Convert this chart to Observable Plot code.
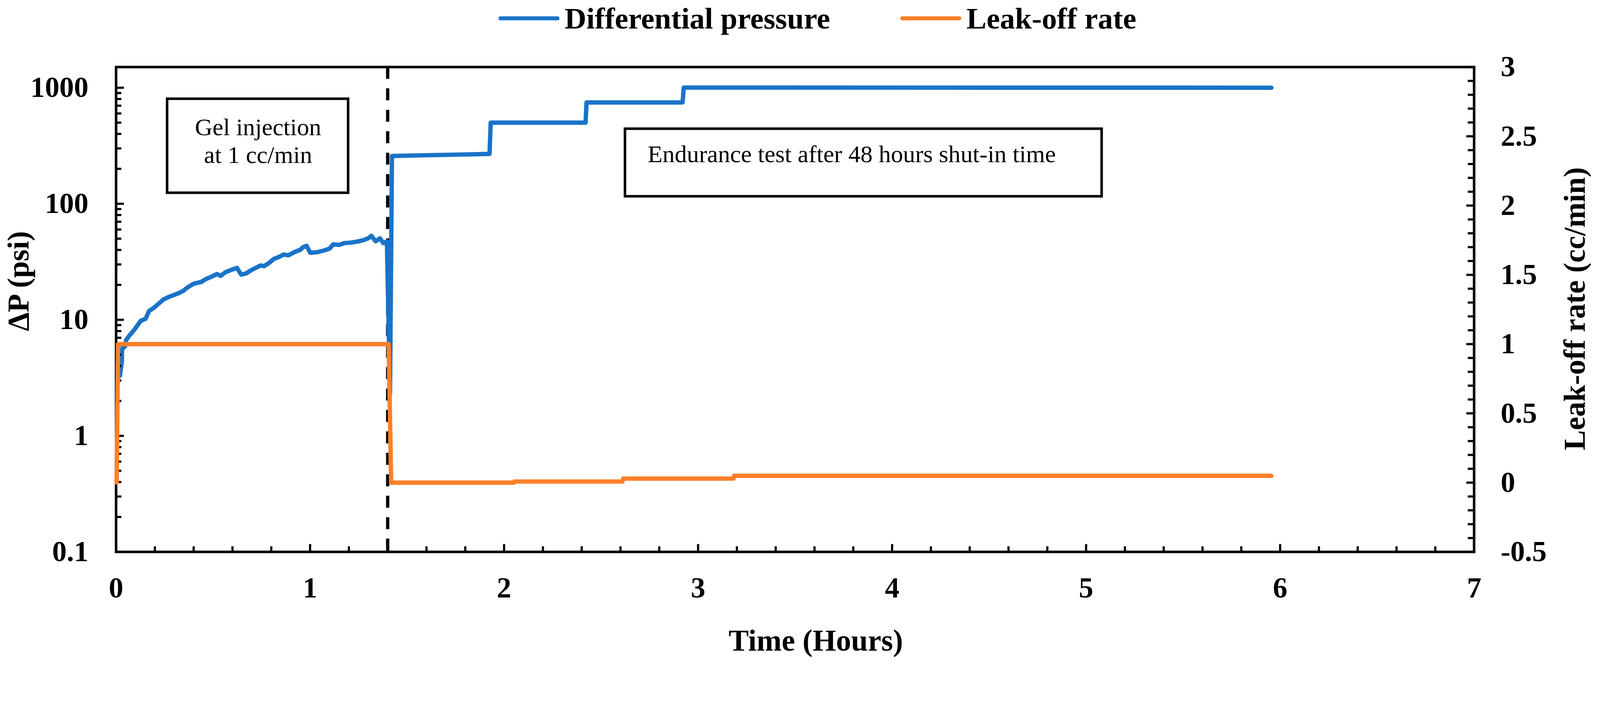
<!DOCTYPE html>
<html><head><meta charset="utf-8">
<script src="https://cdn.jsdelivr.net/npm/d3@7"></script>
<script src="https://cdn.jsdelivr.net/npm/@observablehq/plot@0.6"></script>
<style>
html,body{margin:0;padding:0;background:#fff;overflow:hidden;width:100vw;height:100vh;}
#wrap{position:absolute;left:0;top:0;width:100vw;height:100vh;overflow:hidden;}
#page{position:absolute;left:0;top:0;width:4404px;height:1799px;transform-origin:0 0;font-family:"Liberation Serif","Times New Roman",serif;}
#legend{position:relative;height:120px;width:4404px;}
.item{position:absolute;top:0;height:100px;display:flex;align-items:center;font-weight:bold;font-size:83px;line-height:1;white-space:nowrap;}
.sw{width:168px;height:11px;border-radius:6px;margin-right:14px;}
#chart{position:relative;width:4404px;height:1679px;}
#chart svg{position:absolute;left:0;top:0;max-width:none;}
</style></head>
<body><div id="wrap"><div id="page"><div id="legend"></div><div id="chart"></div></div></div>
<script>
// ---- data ----
const seriesNames = ["Differential pressure", "Leak-off rate"];
const seriesColors = ["#1a73c8", "#fe7f28"];

const pressureTime = [0.020,0.030,0.031,0.046,0.052,0.071,0.086,0.105,0.127,0.152,0.170,0.195,0.220,0.245,0.270,0.295,0.320,0.345,0.370,0.401,0.439,0.464,0.489,0.520,0.539,0.564,0.595,0.623,0.645,0.670,0.695,0.720,0.745,0.763,0.788,0.813,0.838,0.863,0.888,0.919,0.951,0.963,0.982,1.001,1.038,1.075,1.101,1.119,1.150,1.175,1.213,1.250,1.275,1.300,1.316,1.338,1.360,1.378,1.396,1.412,1.422,1.600,1.800,1.925,1.931,2.420,2.425,2.920,2.926,5.955];
const pressureValue = [3.3,4.4,5.6,5.9,6.7,7.4,7.9,8.7,9.8,10.2,11.9,12.7,13.8,15.0,15.7,16.3,16.9,17.7,19.1,20.5,21.2,22.5,23.4,24.8,23.9,25.7,27.0,28.0,24.5,25.1,26.7,28.0,29.4,29.0,30.8,33.5,34.7,36.5,36.0,38.3,40.2,42.2,43.4,37.8,38.3,39.7,41.1,44.7,44.2,45.8,46.3,47.5,48.6,50.4,52.9,47.5,50.4,45.8,47.5,2.3,258,262,266,269,500,500,747,747,1003,1000];

const leakTime = [0.003,0.010,1.405,1.418,2.050,2.053,2.610,2.614,3.182,3.186,5.955];
const leakValue = [0,1,1,0,0,0.008,0.008,0.029,0.029,0.049,0.049];

const xTicks = [0,1,2,3,4,5,6,7];
const leftTicks = [0.1,1,10,100,1000];
const rightTicks = [-0.5,0,0.5,1,1.5,2,2.5,3];
const shutInTime = [1.4];

const xLabel = "Time (Hours)";
const leftLabel = "ΔP (psi)";
const rightLabel = "Leak-off rate (cc/min)";

const noteText = ["Gel injection\nat 1 cc/min", "Endurance test after 48 hours shut-in time"];
const noteX1 = [0.264, 2.624];
const noteX2 = [1.197, 5.081];
const noteY1 = [124, 115.6];
const noteY2 = [801, 442];
const noteTextX = [0.732, 2.740];
const noteTextY = [577, 321];

// ---- build ----
const FONT = "'Liberation Serif', 'Times New Roman', serif";
const legend = document.getElementById("legend");
const legendLeft = [1372, 2478];
seriesNames.forEach((n, i) => {
  const d = document.createElement("div");
  d.className = "item";
  d.style.left = legendLeft[i] + "px";
  d.innerHTML = `<span class="sw" style="background:${seriesColors[i]}"></span><span>${n}</span>`;
  legend.appendChild(d);
});

const W = 4404, H = 1679;
const margins = {marginLeft: 319, marginRight: 347, marginTop: 64, marginBottom: 281};
const pressure = pressureTime.map((t, i) => ({t, v: pressureValue[i]}));
const leak = leakTime.map((t, i) => ({t, v: leakValue[i]}));
const notes = noteText.map((label, i) => ({label, x1: noteX1[i], x2: noteX2[i], y1: noteY1[i], y2: noteY2[i], tx: noteTextX[i], ty: noteTextY[i]}));

const xMinor = d3.range(0, 35).map(i => +(i * 0.2).toFixed(1)).filter(d => !xTicks.includes(d));
const leftMinor = [];
for (const dec of [0.1, 1, 10, 100]) for (let m = 2; m <= 9; m++) leftMinor.push(+(dec * m).toPrecision(3));
const rightMinor = d3.range(0, 36).map(i => +(-0.5 + i * 0.1).toFixed(1)).filter(d => !rightTicks.includes(d));

const baseStyle = {fontFamily: FONT, fontSize: "80px", fontWeight: "bold", color: "black", overflow: "visible"};

const A = Plot.plot({
  width: W, height: H, ...margins,
  style: {...baseStyle, background: "white"},
  x: {domain: [0, 7], label: null},
  y: {type: "log", domain: [0.1, 1507], label: null},
  marks: [
    Plot.rect(notes, {x1: "x1", x2: "x2", y1: "y1", y2: "y2", fill: "white", stroke: "black", strokeWidth: 7}),
    Plot.text(notes.slice(0, 1), {x: "tx", y: "ty", text: "label", textAnchor: "middle", lineAnchor: "top", lineHeight: 1.14, fontSize: 67, fontWeight: "normal", fontFamily: FONT}),
    Plot.text(notes.slice(1), {x: "tx", y: "ty", text: "label", textAnchor: "start", lineAnchor: "top", fontSize: 67, fontWeight: "normal", fontFamily: FONT}),
    Plot.ruleX(shutInTime, {stroke: "black", strokeWidth: 9, strokeDasharray: "33,26"}),
    Plot.line(pressure, {x: "t", y: "v", stroke: seriesColors[0], strokeWidth: 12, strokeLinejoin: "round", strokeLinecap: "round"}),
    Plot.axisX(xMinor, {anchor: "bottom", tickSize: -15, strokeWidth: 6, text: null, label: null}),
    Plot.axisX(xTicks, {anchor: "bottom", tickSize: -21, tickPadding: 90, strokeWidth: 6, tickFormat: d => String(d), fontSize: 80, fontWeight: "bold", fontFamily: FONT, label: null}),
    Plot.axisY(leftMinor, {anchor: "left", tickSize: -15, strokeWidth: 6, text: null, label: null}),
    Plot.axisY(leftTicks, {anchor: "left", tickSize: -22, tickPadding: 98, strokeWidth: 6, tickFormat: d => String(d), fontSize: 80, fontWeight: "bold", fontFamily: FONT, label: null}),
    Plot.frame({stroke: "black", strokeWidth: 7}),
    Plot.text([xLabel], {frameAnchor: "bottom", textAnchor: "middle", lineAnchor: "bottom", dx: 57, dy: 272, fontSize: 83, fontWeight: "bold", fontFamily: FONT}),
    Plot.text([leftLabel], {frameAnchor: "left", textAnchor: "middle", lineAnchor: "middle", rotate: -90, dx: -268, dy: -78, fontSize: 83, fontWeight: "bold", fontFamily: FONT})
  ]
});

const B = Plot.plot({
  width: W, height: H, ...margins,
  style: {...baseStyle, background: "transparent"},
  x: {domain: [0, 7], axis: null, label: null},
  y: {domain: [-0.5, 3], label: null},
  marks: [
    Plot.axisY(rightMinor, {anchor: "right", tickSize: -18, strokeWidth: 6, text: null, label: null}),
    Plot.axisY(rightTicks, {anchor: "right", tickSize: -22, tickPadding: 95, strokeWidth: 6, tickFormat: d => String(d), fontSize: 80, fontWeight: "bold", fontFamily: FONT, label: null}),
    Plot.line(leak, {x: "t", y: "v", stroke: seriesColors[1], strokeWidth: 12, strokeLinejoin: "round", strokeLinecap: "round"}),
    Plot.text([rightLabel], {frameAnchor: "right", textAnchor: "middle", lineAnchor: "middle", rotate: -90, dx: 278, dy: -2, fontSize: 83, fontWeight: "bold", fontFamily: FONT})
  ]
});

const chart = document.getElementById("chart");
chart.appendChild(A);
chart.appendChild(B);

// fit the 4404-wide design into whatever CSS viewport the window provides
const page = document.getElementById("page");
function fit() {
  const s = Math.min(window.innerWidth / 4404, window.innerHeight / 1799);
  page.style.transform = `scale(${s})`;
}
fit();
window.addEventListener("resize", fit);
</script>
</body></html>
